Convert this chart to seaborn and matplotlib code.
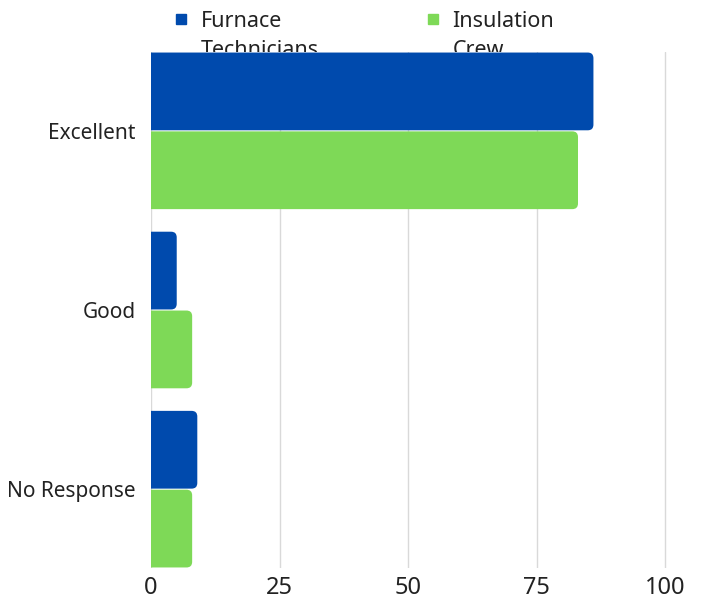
import pandas as pd
import matplotlib
matplotlib.use('Agg')
import matplotlib.pyplot as plt
from matplotlib.patches import FancyBboxPatch
from matplotlib.legend_handler import HandlerLine2D
import seaborn as sns

# --- DATA ---
categories = ['Excellent', 'Good', 'No Response']
series_names = ['Furnace Technicians', 'Insulation Crew']
furnace_values = [86, 5, 9]
insulation_values = [83, 8, 8]
x_ticks = [0, 25, 50, 75, 100]

colors = ['#004AAD', '#7ED957']

df = pd.DataFrame({
    'category': categories * 2,
    'series': [series_names[0]] * 3 + [series_names[1]] * 3,
    'value': furnace_values + insulation_values,
})

# --- STYLE ---
sns.set_style('white')
plt.rcParams['font.family'] = ['Noto Sans', 'DejaVu Sans']

fig = plt.figure(figsize=(7.03, 6), dpi=100)
ax = fig.add_axes([151 / 703, 32 / 600, 516 / 703, 516 / 600])

bar_w = 0.88
sns.barplot(data=df, y='category', x='value', hue='series', order=categories,
            hue_order=series_names, palette=colors, orient='h', width=bar_w,
            saturation=1, ax=ax, legend=False, edgecolor='none')

ax.set_xlim(0, 100.3)
ax.set_ylim(len(categories) - 1 + bar_w / 2, -bar_w / 2)

# rounded right corners: swap each bar for a rounded box (left end hidden past 0)
x_px = 516 / 100.3
y_px = 516 / (len(categories) - 1 + bar_w)
aspect = x_px / y_px
for p in list(ax.patches):
    x0, y0 = p.get_x(), p.get_y()
    w, h = p.get_width(), p.get_height()
    fc = p.get_facecolor()
    p.remove()
    ax.add_patch(FancyBboxPatch((x0 - 2, y0 + 0.003), w + 2, h - 0.006,
                                boxstyle='round,pad=0,rounding_size=1.1',
                                mutation_aspect=aspect, facecolor=fc,
                                edgecolor='none', zorder=2))

ax.set_xticks(x_ticks)
ax.set_xlabel('')
ax.set_ylabel('')
ax.xaxis.grid(True, color='#d9d9d9', linewidth=1)
ax.set_axisbelow(True)
for s in ax.spines.values():
    s.set_visible(False)
ax.tick_params(axis='y', length=0, pad=11, labelsize=15, colors='#222222')
ax.tick_params(axis='x', length=0, pad=6, labelsize=17, colors='#222222')


# marker next to the first line of a wrapped label
class TopMarker(HandlerLine2D):
    def create_artists(self, legend, orig_handle, xdescent, ydescent,
                       width, height, fontsize, trans):
        arts = super().create_artists(legend, orig_handle, xdescent, ydescent,
                                      width, height, fontsize, trans)
        for a in arts:
            a.set_ydata([y + fontsize * 0.8 for y in a.get_ydata()])
        return arts


# legend sits above the plot, its wrapped second line is hidden by the axes
handles = [plt.Line2D([], [], marker='s', linestyle='none', markersize=7,
                      color=c) for c in colors]
labels = ['Furnace\nTechnicians', 'Insulation\nCrew']
leg = fig.legend(handles, labels, loc='upper left', bbox_to_anchor=(162 / 703, 1.0),
                 ncol=2, frameon=False, fontsize=15.5, columnspacing=4.9,
                 handletextpad=0.5, handlelength=0.8, labelcolor='#222222',
                 borderaxespad=0.1,
                 handler_map={plt.Line2D: TopMarker()})
leg.set_zorder(-1)
for t in leg.get_texts():
    t.set_linespacing(1.5)

fig.savefig('out.png', dpi=100)
